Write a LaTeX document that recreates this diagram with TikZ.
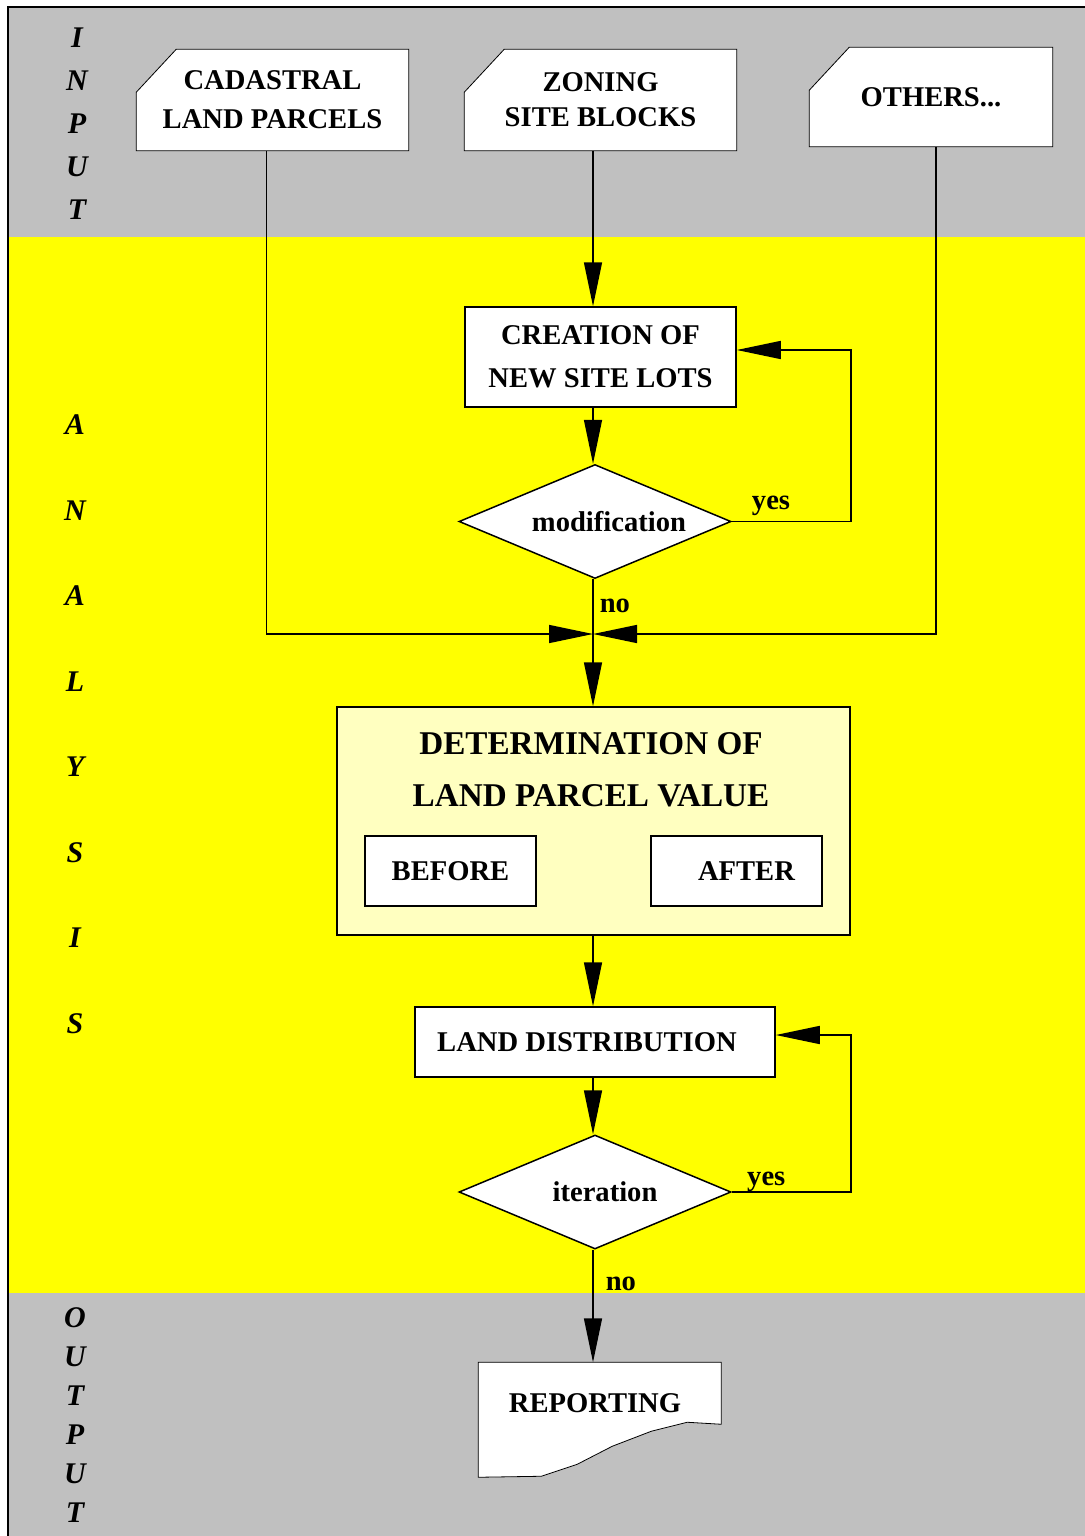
\documentclass[tikz,border=0pt]{standalone}
\usepackage{fontspec}
\setmainfont{Liberation Serif}
\usetikzlibrary{shapes.geometric, positioning, arrows.meta, calc, backgrounds}

\definecolor{bandgray}{RGB}{192,192,192}
\definecolor{bandyellow}{RGB}{255,255,0}
\definecolor{paleyellow}{RGB}{255,255,192}

\begin{document}
\begin{tikzpicture}[
    x = 0.5pt,
    y = -0.5pt,
    > = {Triangle[length=22pt, width=9pt]},
    line width = 0.75pt,
    lbl/.style = {font=\bfseries\fontsize{14.3}{19.5}\selectfont, align=center},
    side/.style = {font=\bfseries\itshape\fontsize{15}{18}\selectfont},
    datain/.style = {lbl, minimum width=135.5pt, minimum height=50pt},
    procbox/.style = {lbl, draw, fill=white, minimum width=135.5pt, minimum height=50pt},
    decision/.style = {lbl, diamond, aspect=2.4, draw, fill=white, inner sep=0pt,
        minimum width=136pt, minimum height=57pt}
]
\useasboundingbox (0,0) rectangle (1085,1536);

% 1. Bands and frame
\begin{scope}[on background layer]
    \fill[bandgray] (8,7) rectangle (1085,237);
    \fill[bandyellow] (8,237) rectangle (1085,1293);
    \fill[bandgray] (8,1293) rectangle (1085,1536);
\end{scope}
\draw[line width=1pt] (8,1536) -- (8,7) -- (1085,7);

% 2. Side titles
\foreach \ch [count=\i] in {I,N,P,U,T}
    \node[side] (in\i) at (77, {38+43*(\i-1)}) {\ch};
\foreach \ch [count=\i] in {A,N,A,L,Y,S,I,S}
    \node[side] (an\i) at (75, {425+85.5*(\i-1)}) {\ch};
\foreach \ch [count=\i] in {O,U,T,P,U,T}
    \node[side] (out\i) at (75, {1318+39*(\i-1)}) {\ch};

% 3. Input data
\node[datain] (cad) at (272.5,100) {CADASTRAL\\LAND PARCELS};
\node[datain] (zon) at (600.5,100) {ZONING\\[-2pt]SITE BLOCKS};
\node[datain, minimum width=121pt, minimum height=49pt] (oth) at (931,97) {OTHERS...};

\begin{scope}[on background layer]
    \foreach \n in {cad, zon, oth}
        \draw[fill=white] (\n.south west) -- ([yshift=-21.5pt]\n.north west)
            -- ([xshift=20pt]\n.north west) -- (\n.north east) -- (\n.south east) -- cycle;
\end{scope}

% 4. Analysis steps
\node[procbox] (cre) at (600.5,357) {CREATION OF\\[2pt]NEW SITE LOTS\hspace{8pt}};
\node[decision] (modi) at (595,521.5) {\hspace{14pt}modification};

\node[draw, fill=paleyellow, minimum width=256.5pt, minimum height=114pt] (det) at (593.5,821) {};
\node[lbl, font=\bfseries\fontsize{16.6}{26}\selectfont] (dettxt) at (591,770)
    {DETERMINATION OF\\LAND PARCEL VALUE};
\node[procbox, minimum width=85.5pt, minimum height=35pt] (before) at (450.5,871) {BEFORE};
\node[procbox, minimum width=85.5pt, minimum height=35pt] (after) at (736.5,871) {\hspace{10pt}AFTER};

\node[procbox, minimum width=180pt, minimum height=35pt] (dist) at (595,1042) {LAND DISTRIBUTION\hspace{8pt}};
\node[decision] (iter) at (595,1192) {\hspace{10pt}iteration};

% 5. Output
\node[minimum width=121.5pt, minimum height=57.5pt] (rep) at (600.5,1420.5) {};
\node[lbl] (reptxt) at (595,1403) {REPORTING};
\begin{scope}[on background layer]
    \draw[fill=white, shift={(rep.north west)}] (0,0) -- (243,0) -- (243,62) -- (209,60)
        -- (173,69) -- (134,84) -- (99,102) -- (63,114) -- (0,115) -- cycle;
\end{scope}

% 6. Connectors
\coordinate (mrg) at (593,634);
\draw[->] ([xshift=-3pt]cad.south) |- (mrg);
\draw[->] ([xshift=2.5pt]oth.south) |- (mrg);

\draw[->] (zon.south -| mrg) -- (cre.north -| mrg);
\draw[->] (cre.south -| mrg) -- (modi.north -| mrg);
\draw[->] (modi.east) -- node[lbl, pos=0.33, anchor=south, inner sep=2.5pt] {yes}
    (modi.east -| det.east) |- ([yshift=3.5pt]cre.east);
\draw[->] (modi.south -| mrg) -- node[lbl, pos=0.21, right, inner sep=3pt] {no} (det.north -| mrg);

\draw[->] (det.south -| mrg) -- (dist.north -| mrg);
\draw[->] (dist.south -| mrg) -- (iter.north -| mrg);
\draw[->] (iter.east) -- node[lbl, pos=0.29, anchor=south, inner sep=0pt] {yes}
    (iter.east -| det.east) |- ([yshift=3.5pt]dist.east);
\draw[->] (iter.south -| mrg) -- node[lbl, pos=0.3, right, inner sep=6pt] {no} (rep.north -| mrg);

\end{tikzpicture}
\end{document}
